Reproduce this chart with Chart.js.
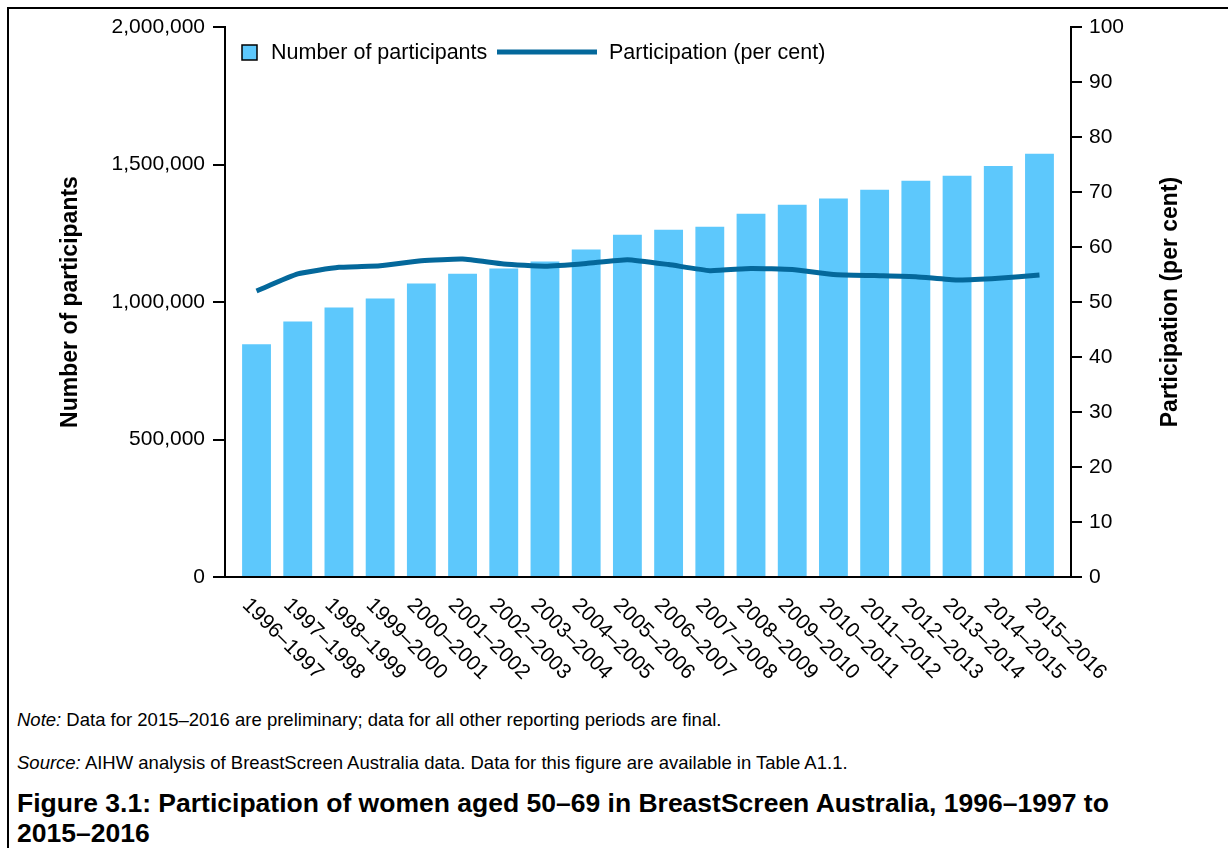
<!DOCTYPE html>
<html>
<head>
<meta charset="utf-8">
<script src="https://cdn.jsdelivr.net/npm/chart.js@4.4.0/dist/chart.umd.min.js"></script>
<style>
  body { margin: 0; background: #fff; font-family: "Liberation Sans", Arial, sans-serif; }
  #page { position: relative; width: 1228px; height: 848px; overflow: hidden; }
  #frame { position: absolute; left: 7px; top: 7px; width: 1400px; height: 1000px; border: 2px solid #000; }
  #chart { position: absolute; left: 0; top: 0; }
  .note { position: absolute; left: 17px; font-size: 18.5px; line-height: 22px; color: #000; white-space: nowrap; }
  .title { position: absolute; left: 17px; top: 788px; font-size: 26.5px; line-height: 30px; font-weight: bold; color: #000; white-space: nowrap; }
</style>
</head>
<body>
<div id="page">
  <div id="frame"></div>
  <canvas id="chart" width="1228" height="700"></canvas>
  <div class="note" style="top:709px"><i>Note:</i> Data for 2015–2016 are preliminary; data for all other reporting periods are final.</div>
  <div class="note" style="top:752px"><i>Source:</i> AIHW analysis of BreastScreen Australia data. Data for this figure are available in Table A1.1.</div>
  <div class="title">Figure 3.1: Participation of women aged 50–69 in BreastScreen Australia, 1996–1997 to<br>2015–2016</div>
</div>
<script>
const periods = [
  '1996–1997', '1997–1998', '1998–1999', '1999–2000', '2000–2001',
  '2001–2002', '2002–2003', '2003–2004', '2004–2005', '2005–2006',
  '2006–2007', '2007–2008', '2008–2009', '2009–2010', '2010–2011',
  '2011–2012', '2012–2013', '2013–2014', '2014–2015', '2015–2016'
];
const participants = [
  846000, 929000, 980000, 1013000, 1067000,
  1103000, 1122000, 1147000, 1191000, 1245000,
  1263000, 1274000, 1321000, 1354000, 1376000,
  1408000, 1441000, 1459000, 1495000, 1539000
];
const participationRate = [
  52.0, 55.1, 56.3, 56.6, 57.5,
  57.8, 56.9, 56.5, 57.0, 57.7,
  56.8, 55.7, 56.1, 55.9, 55.0,
  54.8, 54.6, 54.0, 54.3, 54.9
];
const leftTicks = [0, 500000, 1000000, 1500000, 2000000];

const barColour = '#5DC8FC';
const lineColour = '#04689B';
const font = '"Liberation Sans", Arial, sans-serif';

const extras = {
  id: 'extras',
  afterDraw(chart) {
    const ctx = chart.ctx;
    const x = chart.scales.x;
    const area = chart.chartArea;
    ctx.save();
    ctx.fillStyle = '#000';

    // rotated period labels
    ctx.font = '21px ' + font;
    ctx.textAlign = 'left';
    ctx.textBaseline = 'alphabetic';
    periods.forEach((p, i) => {
      ctx.save();
      ctx.translate(x.getPixelForValue(i) - 15, area.bottom + 29);
      ctx.rotate(Math.PI / 4);
      ctx.fillText(p, 0, 0);
      ctx.restore();
    });

    // axis titles, both read bottom to top
    ctx.font = 'bold 23px ' + font;
    ctx.textAlign = 'center';
    ctx.textBaseline = 'middle';
    const midY = (area.top + area.bottom) / 2;
    [[71, 'Number of participants'], [1171, 'Participation (per cent)']].forEach(([tx, t]) => {
      ctx.save();
      ctx.translate(tx, midY);
      ctx.rotate(-Math.PI / 2);
      ctx.fillText(t, 0, 0);
      ctx.restore();
    });

    // legend
    const ly = area.top + 25;
    ctx.font = '21.5px ' + font;
    ctx.textAlign = 'left';
    ctx.fillStyle = barColour;
    ctx.fillRect(area.left + 17, ly - 7, 15, 15);
    ctx.strokeStyle = '#000';
    ctx.lineWidth = 1.5;
    ctx.strokeRect(area.left + 17, ly - 7, 15, 15);
    ctx.fillStyle = '#000';
    ctx.fillText(chart.data.datasets[0].label, area.left + 46, ly + 1);
    ctx.strokeStyle = lineColour;
    ctx.lineWidth = 5;
    ctx.beginPath();
    ctx.moveTo(area.left + 272, ly);
    ctx.lineTo(area.left + 372, ly);
    ctx.stroke();
    ctx.fillText(chart.data.datasets[1].label, area.left + 384, ly + 1);
    ctx.restore();
  }
};

new Chart(document.getElementById('chart'), {
  data: {
    datasets: [
      {
        type: 'bar',
        label: 'Number of participants',
        data: participants.map((v, i) => ({ x: i, y: v })),
        backgroundColor: barColour,
        borderWidth: 0,
        barPercentage: 0.7,
        categoryPercentage: 1,
        yAxisID: 'y',
        order: 1
      },
      {
        type: 'line',
        label: 'Participation (per cent)',
        data: participationRate.map((v, i) => ({ x: i, y: v })),
        borderColor: lineColour,
        backgroundColor: lineColour,
        borderWidth: 5,
        pointRadius: 0,
        tension: 0.15,
        yAxisID: 'y1',
        order: 0
      }
    ]
  },
  options: {
    responsive: false,
    animation: false,
    layout: { padding: { top: 27, bottom: 0, left: 0, right: 0 } },
    plugins: { legend: { display: false }, tooltip: { enabled: false } },
    scales: {
      x: {
        type: 'linear',
        min: -0.765,
        max: 19.765,
        offset: false,
        bounds: 'data',
        afterBuildTicks: s => { s.ticks = periods.map((p, i) => ({ value: i })); },
        grid: { display: false },
        ticks: { display: false },
        border: { color: '#000', width: 2 },
        afterFit: s => { s.height = 123; }
      },
      y: {
        position: 'left',
        min: 0,
        max: 2000000,
        afterBuildTicks: s => { s.ticks = leftTicks.map(v => ({ value: v })); },
        ticks: {
          color: '#000',
          font: { family: font, size: 21 },
          padding: 8,
          callback: v => v.toLocaleString('en-US')
        },
        grid: { drawOnChartArea: false, color: '#000', lineWidth: 2, tickLength: 12 },
        border: { color: '#000', width: 2 },
        afterFit: s => { s.width = 225; }
      },
      y1: {
        position: 'right',
        min: 0,
        max: 100,
        ticks: {
          stepSize: 10,
          color: '#000',
          font: { family: font, size: 21 },
          padding: 7
        },
        grid: { drawOnChartArea: false, color: '#000', lineWidth: 2, tickLength: 11 },
        border: { color: '#000', width: 2 },
        afterFit: s => { s.width = 157; }
      }
    }
  },
  plugins: [extras]
});
</script>
</body>
</html>
